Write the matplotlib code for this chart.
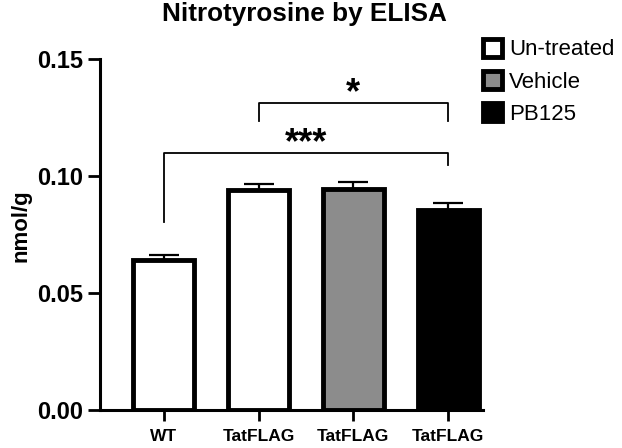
import matplotlib
matplotlib.use("Agg")
import matplotlib.pyplot as plt
from matplotlib.patches import Patch

plt.rcParams['font.family'] = ['Liberation Sans', 'DejaVu Sans']

categories = ["WT", "TatFLAG", "TatFLAG", "TatFLAG"]
values = [0.0641, 0.0942, 0.0945, 0.0855]
errors = [0.0021, 0.0024, 0.0029, 0.0031]
colors = ["white", "white", "#8c8c8c", "black"]
legend_labels = ["Un-treated", "Vehicle", "PB125"]
legend_colors = ["white", "#8c8c8c", "black"]
yticks = [0.00, 0.05, 0.10, 0.15]
ytick_labels = ["0.00", "0.05", "0.10", "0.15"]

fig = plt.figure(figsize=(6.22, 4.48), dpi=100)
ax = fig.add_axes([0.161, 0.085, 0.616, 0.783])

x = list(range(len(values)))
ax.bar(x, values, width=0.64, color=colors, edgecolor="black", linewidth=3.5, zorder=2)
ax.errorbar(x, values, yerr=[[0]*len(errors), errors], fmt="none", ecolor="black",
            elinewidth=1.6, capsize=11, capthick=1.6, zorder=1)

ax.set_xlim(-0.67, 3.37)
ax.set_ylim(0, 0.15)
ax.set_yticks(yticks)
ax.set_yticklabels(ytick_labels, fontsize=17, fontweight="bold")
ax.set_xticks(x)
ax.set_xticklabels(categories, fontsize=12.5, fontweight="bold")
ax.tick_params(axis="y", direction="out", length=9, width=2, pad=3)
ax.tick_params(axis="x", direction="out", length=8, width=2, pad=6)
for s in ["top", "right"]:
    ax.spines[s].set_visible(False)
for s in ["left", "bottom"]:
    ax.spines[s].set_linewidth(2.2)
ax.spines["left"].set_bounds(0, 0.15)

ax.set_ylabel("nmol/g", fontsize=16, fontweight="bold")
ax.yaxis.set_label_coords(-0.178, 0.524)
fig.suptitle("Nitrotyrosine by ELISA", fontsize=18.8, fontweight="bold", x=0.49, y=0.995)

# significance brackets
def bracket(x1, x2, y, yl, yr, text, ty):
    ax.plot([x1, x1, x2, x2], [yl, y, y, yr], color="black", lw=1.3, clip_on=False)
    ax.text((x1 + x2) / 2, ty, text, ha="center", va="baseline", fontsize=26, fontweight="bold")

bracket(1, 3, 0.1312, 0.1235, 0.1235, "*", 0.1310)
bracket(0, 3, 0.1100, 0.0804, 0.1048, "***", 0.1100)

handles = [Patch(facecolor=c, edgecolor="black", linewidth=3.5) for c in legend_colors]
fig.legend(handles, legend_labels, loc="upper left", bbox_to_anchor=(0.745, 0.958),
           frameon=False, fontsize=16, handlelength=0.85, handleheight=0.85,
           handletextpad=0.3, labelspacing=0.48)

fig.savefig("out.png", dpi=100)
